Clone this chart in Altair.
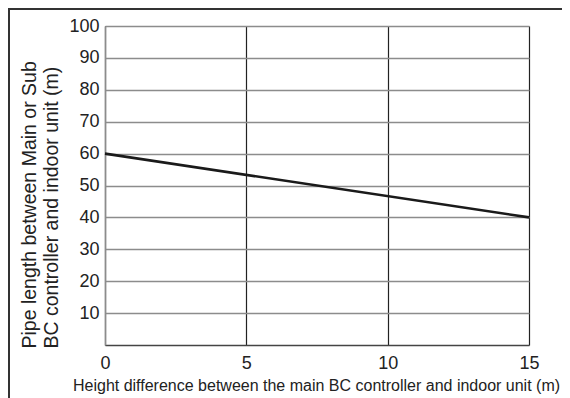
import altair as alt
import pandas as pd

# data
height_diff = [0, 15]
pipe_length = [60, 40]
x_ticks = [0, 5, 10, 15]
y_ticks = [10, 20, 30, 40, 50, 60, 70, 80, 90, 100]

df = pd.DataFrame({"h": height_diff, "L": pipe_length})

W, H = 424, 319

x_scale = alt.Scale(domain=[0, 15], nice=False, zero=False)
y_scale = alt.Scale(domain=[0, 100], nice=False)

x_axis = alt.Axis(values=x_ticks, grid=True, gridColor="#222222", gridWidth=1.2,
                  domainColor="#444444", domainWidth=1.5, ticks=False,
                  labelFontSize=18, labelFont="Liberation Sans", labelColor="#222222",
                  labelPadding=9, labelFlush=False, labelOverlap=False,
                  title="Height difference between the main BC controller and indoor unit (m)",
                  titleFont="Liberation Sans", titleFontSize=16,
                  titleFontWeight="normal", titleColor="#222222",
                  titleBaseline="alphabetic", titleY=45, titleX=211)
y_axis = alt.Axis(values=y_ticks, tickCount=10, grid=True, gridColor="#8c8c8c", gridWidth=1.5,
                  domainColor="#8c8c8c", domainWidth=1.5, ticks=False,
                  labelFontSize=18, labelFont="Liberation Sans", labelColor="#222222",
                  labelPadding=6, labelOverlap=False, labelFlush=False,
                  title=["Pipe length between Main or Sub",
                         "BC controller and indoor unit (m)"],
                  titleFont="Liberation Sans", titleFontSize=19.5,
                  titleFontWeight="normal", titleColor="#222222",
                  titleAngle=270, titleAlign="left", titleBaseline="alphabetic",
                  titleLineHeight=22, titleX=-70, titleY=322)

line = alt.Chart(df).mark_line(color="#1a1a1a", strokeWidth=2.6).encode(
    x=alt.X("h:Q", scale=x_scale, axis=x_axis),
    y=alt.Y("L:Q", scale=y_scale, axis=y_axis),
)

frame_top = alt.Chart(pd.DataFrame({"a": [0]})).mark_rule(color="#333333", strokeWidth=2).encode(
    x=alt.value(-97), x2=alt.value(470), y=alt.value(-17)
)
frame_left = alt.Chart(pd.DataFrame({"a": [0]})).mark_rule(color="#333333", strokeWidth=2).encode(
    x=alt.value(-96), y=alt.value(-18), y2=alt.value(380)
)

chart = alt.layer(line, frame_top, frame_left).properties(
    width=W, height=H,
    autosize=alt.AutoSizeParams(type="none"),
    padding={"left": 97, "top": 18, "right": 33, "bottom": 53},
).configure_view(stroke=None).configure(background="white")

chart.save("out.html", embed_options={"renderer": "svg", "actions": False})
